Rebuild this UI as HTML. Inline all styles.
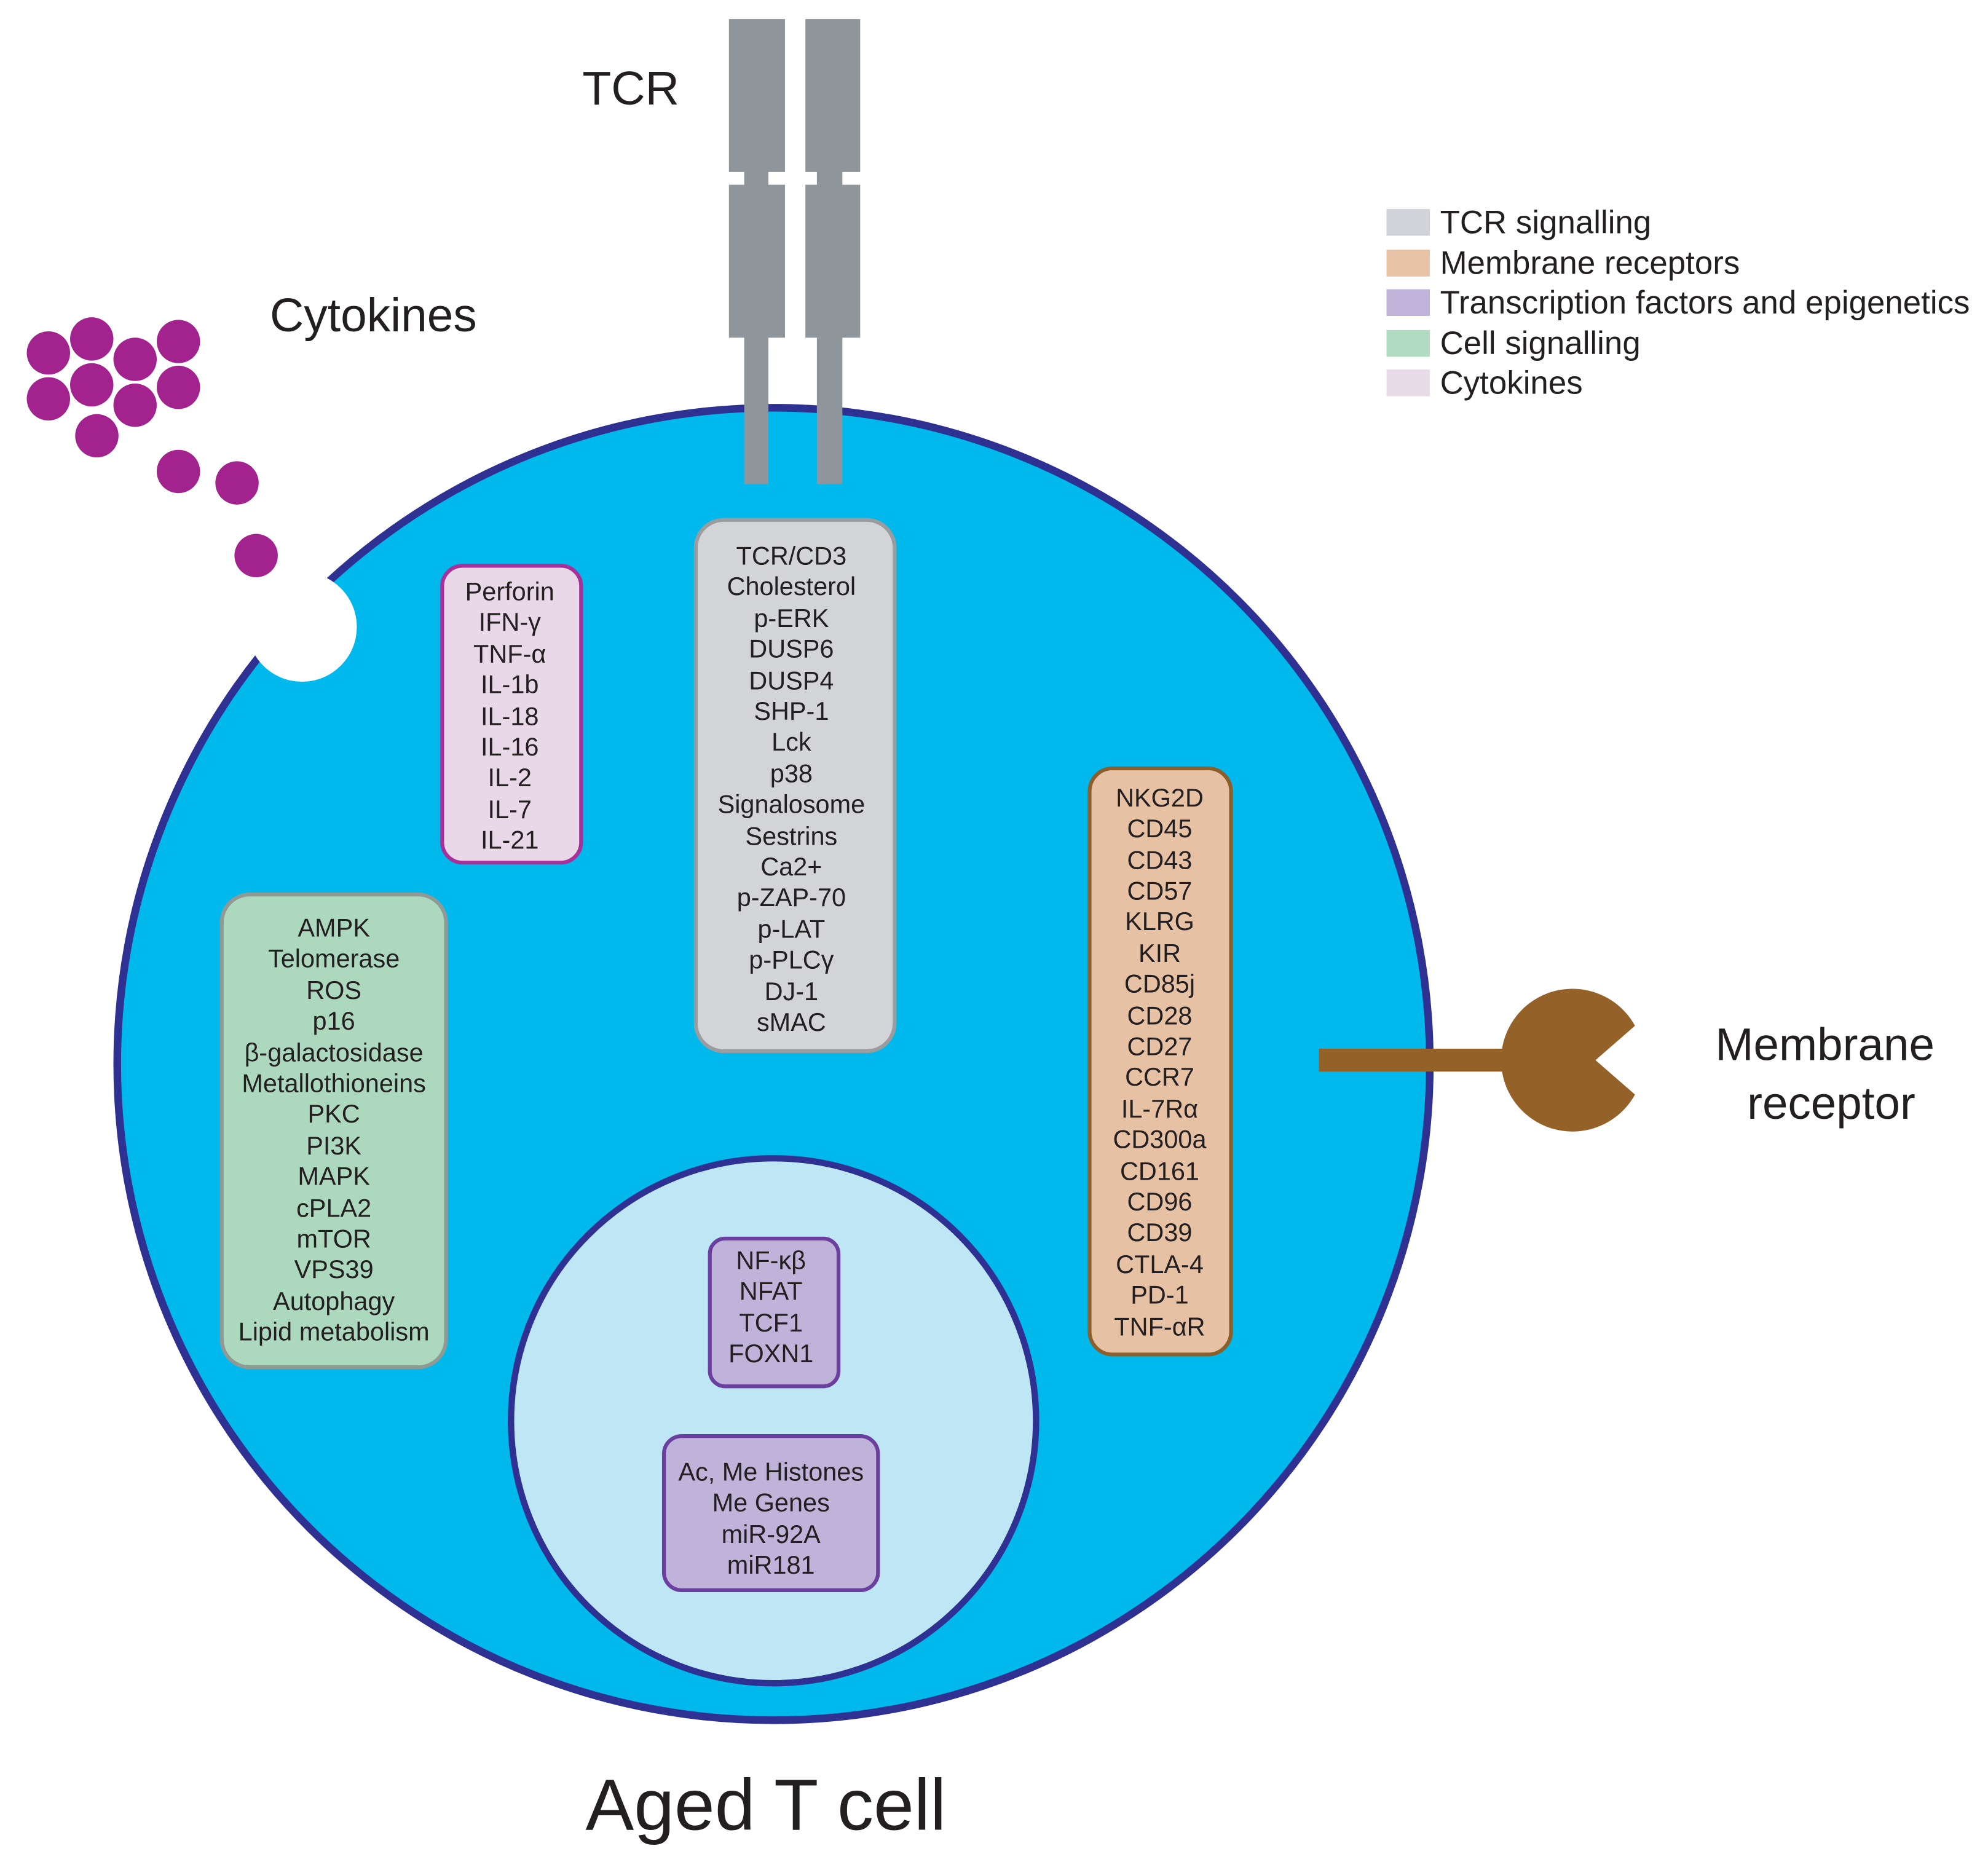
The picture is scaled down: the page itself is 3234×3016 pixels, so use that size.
<!DOCTYPE html>
<html><head><meta charset="utf-8"><style>
html,body{margin:0;padding:0;background:#fff}
svg{display:block}
text{font-family:"Liberation Sans",sans-serif;fill:#231f20}
.b{font-size:20px;text-anchor:middle}
</style></head><body>
<svg width="3234" height="3016" viewBox="0 0 1560 1455" preserveAspectRatio="none" xmlns="http://www.w3.org/2000/svg">
<rect width="1560" height="1455" fill="#fff"/>
<g fill="#8e959b">
<rect x="572" y="15" width="44" height="120"/><rect x="572" y="145" width="44" height="120"/>
<rect x="632" y="15" width="43" height="120"/><rect x="632" y="145" width="43" height="120"/>
<rect x="584" y="130" width="19" height="20"/><rect x="641" y="130" width="20" height="20"/>
</g>
<text x="495" y="82" font-size="37" text-anchor="middle">TCR</text>
<circle cx="607" cy="835" r="515" fill="#00b9ec" stroke="#2e3192" stroke-width="6"/>
<g fill="#8e959b"><rect x="584" y="260" width="19" height="120"/><rect x="641" y="260" width="20" height="120"/></g>
<circle cx="237" cy="492" r="43" fill="#fff"/>
<g fill="#a3238e">
<circle cx="38" cy="277" r="17"/><circle cx="72" cy="266" r="17"/><circle cx="106" cy="282" r="17"/><circle cx="140" cy="268" r="17"/>
<circle cx="38" cy="313" r="17"/><circle cx="72" cy="302" r="17"/><circle cx="106" cy="318" r="17"/><circle cx="140" cy="304" r="17"/>
<circle cx="76" cy="342" r="17"/><circle cx="140" cy="370" r="17"/><circle cx="186" cy="379" r="17"/><circle cx="201" cy="436" r="17"/>
</g>
<text x="293" y="260" font-size="37" text-anchor="middle">Cytokines</text>
<rect x="1088" y="164" width="34" height="21" fill="#d1d3d8"/>
<rect x="1088" y="196" width="34" height="21" fill="#e8c3a6"/>
<rect x="1088" y="227" width="34" height="21" fill="#c0b4db"/>
<rect x="1088" y="259" width="34" height="21" fill="#b0dcc2"/>
<rect x="1088" y="290" width="34" height="21" fill="#e8dae6"/>
<g font-size="25.5">
<text x="1130" y="183">TCR signalling</text>
<text x="1130" y="215">Membrane receptors</text>
<text x="1130" y="246">Transcription factors and epigenetics</text>
<text x="1130" y="278">Cell signalling</text>
<text x="1130" y="309">Cytokines</text>
</g>
<rect x="347" y="444" width="109" height="233" rx="16" fill="#e9d8e8" stroke="#a8309a" stroke-width="3"/>
<text x="400" y="471" class="b">Perforin</text><text x="400" y="495" class="b">IFN-γ</text><text x="400" y="520" class="b">TNF-α</text>
<text x="400" y="544" class="b">IL-1b</text><text x="400" y="569" class="b">IL-18</text><text x="400" y="593" class="b">IL-16</text>
<text x="400" y="617" class="b">IL-2</text><text x="400" y="642" class="b">IL-7</text><text x="400" y="666" class="b">IL-21</text>
<rect x="546" y="408" width="156" height="417" rx="22" fill="#d2d4d8" stroke="#9a9c9f" stroke-width="3"/>
<text x="621" y="443" class="b">TCR/CD3</text><text x="621" y="467" class="b">Cholesterol</text><text x="621" y="492" class="b">p-ERK</text>
<text x="621" y="516" class="b">DUSP6</text><text x="621" y="541" class="b">DUSP4</text><text x="621" y="565" class="b">SHP-1</text>
<text x="621" y="589" class="b">Lck</text><text x="621" y="614" class="b">p38</text><text x="621" y="638" class="b">Signalosome</text>
<text x="621" y="663" class="b">Sestrins</text><text x="621" y="687" class="b">Ca2+</text><text x="621" y="711" class="b">p-ZAP-70</text>
<text x="621" y="736" class="b">p-LAT</text><text x="621" y="760" class="b">p-PLCγ</text><text x="621" y="785" class="b">DJ-1</text>
<text x="621" y="809" class="b">sMAC</text>
<rect x="174" y="702" width="176" height="371" rx="22" fill="#acd9be" stroke="#8f9a95" stroke-width="3"/>
<text x="262" y="735" class="b">AMPK</text><text x="262" y="759" class="b">Telomerase</text><text x="262" y="784" class="b">ROS</text>
<text x="262" y="808" class="b">p16</text><text x="262" y="833" class="b">β-galactosidase</text><text x="262" y="857" class="b">Metallothioneins</text>
<text x="262" y="881" class="b">PKC</text><text x="262" y="906" class="b">PI3K</text><text x="262" y="930" class="b">MAPK</text>
<text x="262" y="955" class="b">cPLA2</text><text x="262" y="979" class="b">mTOR</text><text x="262" y="1003" class="b">VPS39</text>
<text x="262" y="1028" class="b">Autophagy</text><text x="262" y="1052" class="b">Lipid metabolism</text>
<rect x="855" y="603" width="111" height="460" rx="18" fill="#e7c1a4" stroke="#8b5e2b" stroke-width="3"/>
<text x="910" y="633" class="b">NKG2D</text><text x="910" y="657" class="b">CD45</text><text x="910" y="682" class="b">CD43</text>
<text x="910" y="706" class="b">CD57</text><text x="910" y="730" class="b">KLRG</text><text x="910" y="755" class="b">KIR</text>
<text x="910" y="779" class="b">CD85j</text><text x="910" y="804" class="b">CD28</text><text x="910" y="828" class="b">CD27</text>
<text x="910" y="852" class="b">CCR7</text><text x="910" y="877" class="b">IL-7Rα</text><text x="910" y="901" class="b">CD300a</text>
<text x="910" y="926" class="b">CD161</text><text x="910" y="950" class="b">CD96</text><text x="910" y="974" class="b">CD39</text>
<text x="910" y="999" class="b">CTLA-4</text><text x="910" y="1023" class="b">PD-1</text><text x="910" y="1048" class="b">TNF-αR</text>
<circle cx="607" cy="1115" r="206" fill="#bfe6f5" stroke="#2e3192" stroke-width="5"/>
<rect x="557" y="972" width="101" height="116" rx="12" fill="#bfb3d9" stroke="#6b3fa0" stroke-width="3"/>
<text x="605" y="996" class="b">NF-κβ</text><text x="605" y="1020" class="b">NFAT</text>
<text x="605" y="1045" class="b">TCF1</text><text x="605" y="1069" class="b">FOXN1</text>
<rect x="521" y="1127" width="168" height="121" rx="14" fill="#bfb3d9" stroke="#6b3fa0" stroke-width="3"/>
<text x="605" y="1162" class="b">Ac, Me Histones</text><text x="605" y="1186" class="b">Me Genes</text>
<text x="605" y="1211" class="b">miR-92A</text><text x="605" y="1235" class="b">miR181</text>
<rect x="1035" y="823" width="160" height="18" fill="#946129"/>
<path d="M1252,832 L1283,805 A56 56 0 1 0 1283,859 Z" fill="#946129"/>
<text x="1432" y="832" font-size="36" text-anchor="middle">Membrane</text>
<text x="1437" y="878" font-size="36" text-anchor="middle">receptor</text>
<text x="601" y="1436" font-size="57" text-anchor="middle">Aged T cell</text>
</svg>
</body></html>
